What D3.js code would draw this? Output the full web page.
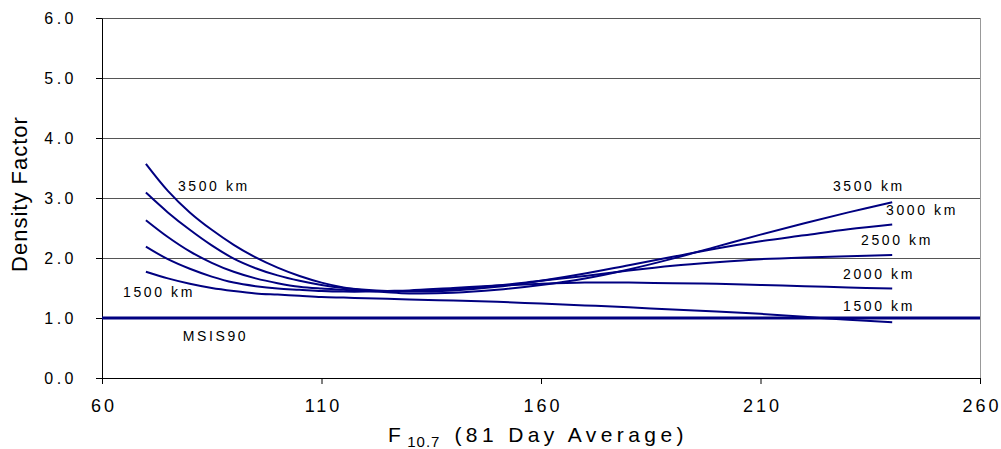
<!DOCTYPE html>
<html>
<head>
<meta charset="utf-8">
<script src="https://cdn.jsdelivr.net/npm/d3@7"></script>
<style>
  body { margin: 0; background: #fff; }
  text { font-family: "Liberation Sans", Arial, sans-serif; fill: #000; }
</style>
</head>
<body>
<div id="chart"></div>
<script>
// density factor vs F10.7, one curve per altitude
// ================================================

var f107 = [70, 75, 80, 85, 90, 95, 100, 105, 110, 115, 120, 125, 130, 140, 150, 160, 170, 180, 190, 200, 210, 220, 230, 240];

var km3500 = [3.57, 3.12, 2.76, 2.47, 2.22, 2.01, 1.84, 1.70, 1.59, 1.51, 1.46, 1.43, 1.41, 1.42, 1.47, 1.55, 1.66, 1.81, 1.99, 2.19, 2.39, 2.58, 2.76, 2.93];
var km3000 = [3.09, 2.76, 2.47, 2.21, 1.99, 1.83, 1.71, 1.62, 1.55, 1.50, 1.47, 1.45, 1.44, 1.46, 1.52, 1.62, 1.74, 1.88, 2.02, 2.16, 2.28, 2.38, 2.48, 2.56];
var km2500 = [2.63, 2.35, 2.11, 1.92, 1.77, 1.66, 1.58, 1.52, 1.49, 1.47, 1.45, 1.45, 1.45, 1.48, 1.54, 1.62, 1.70, 1.79, 1.87, 1.93, 1.98, 2.01, 2.03, 2.05];
var km2000 = [2.19, 1.98, 1.82, 1.69, 1.59, 1.53, 1.49, 1.47, 1.45, 1.44, 1.44, 1.45, 1.46, 1.50, 1.54, 1.57, 1.59, 1.59, 1.58, 1.57, 1.55, 1.53, 1.51, 1.49];
var km1500 = [1.77, 1.66, 1.57, 1.50, 1.45, 1.41, 1.39, 1.37, 1.35, 1.34, 1.33, 1.32, 1.31, 1.29, 1.27, 1.24, 1.21, 1.18, 1.14, 1.11, 1.07, 1.02, 0.97, 0.93];

var msisF = [60, 260];
var msis = [1.0, 1.0];

var xTicks = [60, 110, 160, 210, 260];
var yTicks = [0, 1, 2, 3, 4, 5, 6];

// label text + where it sits (in data units)
var labels = [
  {t: "3500 km", f: 77.3, v: 3.12},
  {t: "1500 km", f: 64.8, v: 1.35},
  {t: "MSIS90",  f: 78.4, v: 0.62},
  {t: "3500 km", f: 226.5, v: 3.12},
  {t: "3000 km", f: 238.6, v: 2.72},
  {t: "2500 km", f: 232.9, v: 2.22},
  {t: "2000 km", f: 228.8, v: 1.65},
  {t: "1500 km", f: 228.8, v: 1.12}
];

var width = 1001,
    height = 449;
var plotL = 102, plotR = 980, plotT = 18, plotB = 378;

var svg = d3.select("#chart").append("svg")
    .attr("width", width)
    .attr("height", height);

var x = d3.scaleLinear().domain([60, 260]).range([plotL, plotR]);
var y = d3.scaleLinear().domain([0, 6]).range([plotB, plotT]);

// gridlines
svg.append("g")
   .selectAll("line")
   .data(yTicks.filter(d => d > 0))
   .enter().append("line")
   .attr("x1", plotL).attr("x2", plotR)
   .attr("y1", d => y(d)).attr("y2", d => y(d))
   .attr("stroke", "#555")
   .attr("stroke-width", 1)
   .attr("shape-rendering", "crispEdges");

// right border
svg.append("line")
   .attr("x1", plotR).attr("x2", plotR)
   .attr("y1", plotT).attr("y2", plotB)
   .attr("stroke", "#999")
   .attr("shape-rendering", "crispEdges");

// axes
var yAxis = svg.append("g")
   .attr("transform", "translate(" + plotL + ",0)")
   .call(d3.axisLeft(y).tickValues(yTicks).tickSize(6).tickSizeOuter(0).tickPadding(19).tickFormat(d3.format(".1f")));
yAxis.select(".domain").attr("stroke", "#000");
yAxis.selectAll(".tick line").attr("stroke", "#000");
yAxis.selectAll("text")
   .attr("font-size", 16)
   .attr("letter-spacing", "3.5px")
   .style("font-family", "'Liberation Sans', Arial, sans-serif");

var xAxis = svg.append("g")
   .attr("transform", "translate(0," + plotB + ")")
   .call(d3.axisBottom(x).tickValues(xTicks).tickSize(6).tickSizeOuter(0));
xAxis.select(".domain").attr("stroke", "#000");
xAxis.selectAll(".tick line").attr("stroke", "#000");
xAxis.selectAll("text")
   .attr("y", 34).attr("dy", 0).attr("dx", 1.5)
   .attr("font-size", 18)
   .attr("letter-spacing", "3px")
   .style("font-family", "'Liberation Sans', Arial, sans-serif");

// curves
var line = d3.line()
    .x(d => x(d[0]))
    .y(d => y(d[1]))
    .curve(d3.curveCatmullRom.alpha(0.5));

var series = [km1500, km2000, km2500, km3000, km3500];
svg.append("g")
   .selectAll("path")
   .data(series)
   .enter().append("path")
   .attr("d", s => line(d3.zip(f107, s)))
   .attr("fill", "none")
   .attr("stroke", "#000080")
   .attr("stroke-width", 2);

// MSIS90 baseline
svg.append("path")
   .attr("d", line(d3.zip(msisF, msis)))
   .attr("fill", "none")
   .attr("stroke", "#000080")
   .attr("stroke-width", 3);

// curve labels
svg.append("g")
   .selectAll("text")
   .data(labels)
   .enter().append("text")
   .attr("x", d => x(d.f))
   .attr("y", d => y(d.v))
   .attr("font-size", 14)
   .attr("letter-spacing", "2.6px")
   .text(d => d.t);

// axis titles
var xt = svg.append("text")
   .attr("x", 388)
   .attr("y", 442)
   .attr("font-size", 21)
   .attr("letter-spacing", "4.4px");
xt.append("tspan").text("F");
xt.append("tspan").attr("dx", 2).attr("dy", 5).attr("font-size", 15).attr("letter-spacing", "1px").text("10.7");
xt.append("tspan").attr("dx", 14).attr("dy", -5).text("(81 Day Average)");

svg.append("text")
   .attr("transform", "translate(27,194) rotate(-90)")
   .attr("text-anchor", "middle")
   .attr("font-size", 22)
   .attr("letter-spacing", "1px")
   .text("Density Factor");
</script>
</body>
</html>
